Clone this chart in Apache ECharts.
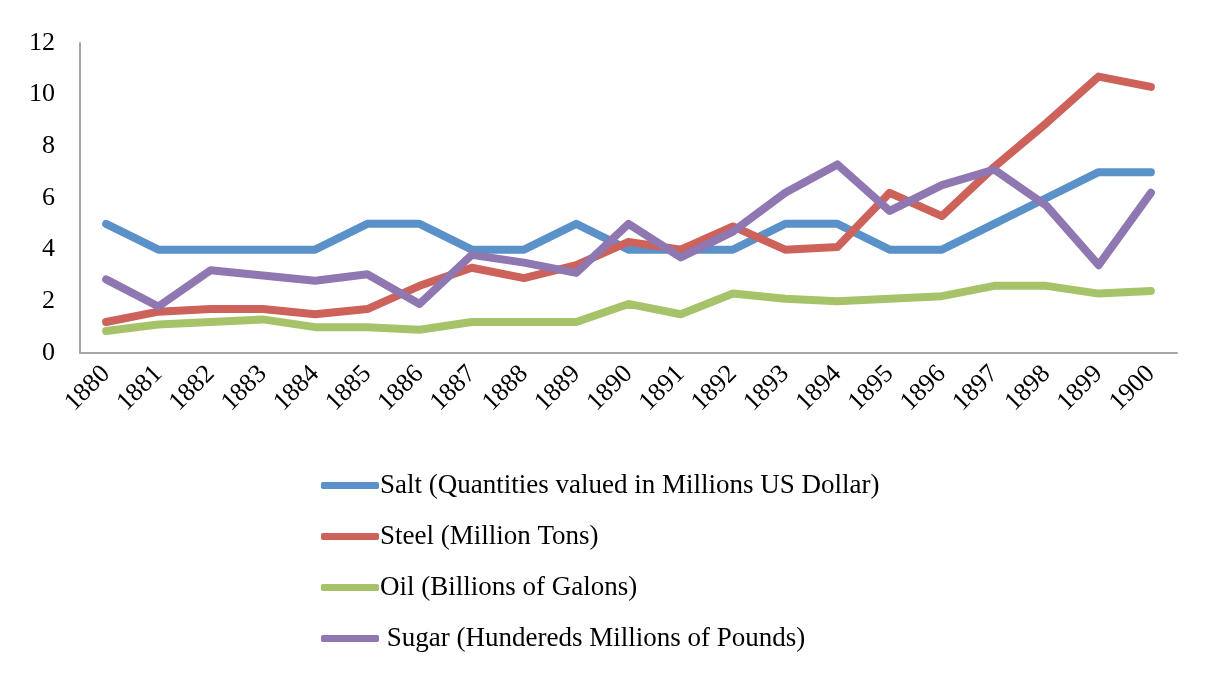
<!DOCTYPE html>
<html><head><meta charset="utf-8">
<script src="https://cdn.jsdelivr.net/npm/echarts@6/dist/echarts.min.js"></script>
<style>html,body{margin:0;padding:0;background:#fff}#c{width:1206px;height:679px}</style>
</head><body><div id="c"></div>
<script>
const years = ['1880','1881','1882','1883','1884','1885','1886','1887','1888','1889','1890','1891','1892','1893','1894','1895','1896','1897','1898','1899','1900'];
const salt  = [5,4,4,4,4,5,5,4,4,5,4,4,4,5,5,4,4,5,6,7,7];
const steel = [1.2,1.6,1.7,1.7,1.5,1.7,2.6,3.3,2.9,3.4,4.3,4.0,4.9,4.0,4.1,6.2,5.3,7.2,8.9,10.7,10.3];
const oil   = [0.85,1.1,1.2,1.3,1.0,1.0,0.9,1.2,1.2,1.2,1.9,1.5,2.3,2.1,2.0,2.1,2.2,2.6,2.6,2.3,2.4];
const sugar = [2.85,1.8,3.2,3.0,2.8,3.05,1.9,3.8,3.5,3.1,5.0,3.7,4.7,6.2,7.3,5.5,6.5,7.1,5.7,3.4,6.2];
const names = ['Salt (Quantities valued in Millions US Dollar)','Steel (Million Tons)','Oil (Billions of Galons)',' Sugar (Hundereds Millions of Pounds)'];
const colors = ['#5A91C8','#CD625A','#A7C36A','#8F77B1'];
const yTicks = [0,2,4,6,8,10,12];

const font = '"Liberation Serif", "DejaVu Serif", serif';
const chart = echarts.init(document.getElementById('c'));
const mk = (n, d, c) => ({name:n, type:'line', data:d, symbol:'none', smooth:false,
  lineStyle:{width:8, color:c, cap:'round', join:'round'}, itemStyle:{color:c}});
chart.setOption({
  animation:false,
  grid:{left:80, right:29, top:43, bottom:326, containLabel:false},
  legend:{orient:'vertical', left:316, top:467, itemGap:24, itemWidth:58, itemHeight:7,
    icon:'roundRect', textStyle:{fontFamily:font, fontSize:27, color:'#000', padding:[0,0,0,-4]},
    data:names},
  xAxis:{type:'category', data:years, boundaryGap:true,
    axisLine:{lineStyle:{color:'#A6A6A6', width:2}}, axisTick:{show:false},
    axisLabel:{rotate:45, fontFamily:font, fontSize:26, color:'#000', margin:17, interval:0}},
  yAxis:{type:'value', min:yTicks[0], max:yTicks[yTicks.length-1], interval:2,
    splitLine:{show:false}, axisLine:{show:true, lineStyle:{color:'#A6A6A6', width:2}},
    axisTick:{show:false},
    axisLabel:{fontFamily:font, fontSize:26, color:'#000', margin:25}},
  series:[mk(names[0],salt,colors[0]), mk(names[1],steel,colors[1]), mk(names[2],oil,colors[2]), mk(names[3],sugar,colors[3])]
});
</script></body></html>
